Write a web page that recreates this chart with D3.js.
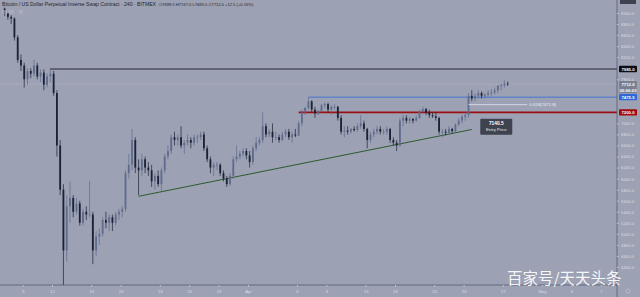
<!DOCTYPE html>
<html><head><meta charset="utf-8">
<script src="https://cdn.jsdelivr.net/npm/d3@7"></script>
<style>
body{margin:0;background:#9ca1b4;overflow:hidden}
svg{display:block}
</style>
</head><body><div id="chart"></div>
<script>
const W = 640, H = 297;
const PLOT_RIGHT = 617, AXIS_Y = 285;

// 8h candles from 2020-03-07 00:00 UTC, [open, high, low, close]
const candles = [
  [9080,9100,8950,9000],[9000,9050,8880,8930],[8930,8960,8800,8900],
  [8900,8920,8500,8560],[8560,8600,8100,8150],[8150,8250,7950,8050],
  [8050,8100,7650,7800],[7800,8000,7700,7950],[7950,8000,7820,7900],
  [7900,8150,7850,8050],[8050,8100,7800,7850],[7850,7980,7750,7920],
  [7920,7980,7600,7700],[7700,7900,7650,7850],[7850,7985,7750,7900],
  [7900,7950,7500,7550],[7550,7600,6400,6600],[6600,6700,5700,5800],
  [5800,5900,3600,4700],[4700,5700,4500,5500],[5500,5950,5200,5650],
  [5650,5700,5300,5400],[5400,5650,5350,5550],[5550,5600,5150,5200],
  [5200,5450,5150,5400],[5400,5500,5250,5350],[5350,5950,5300,5350],
  [5350,5400,4450,4700],[4700,5050,4600,4950],[4950,5100,4800,5000],
  [5000,5300,4950,5250],[5250,5400,5100,5200],[5200,5350,5050,5300],
  [5300,5350,5050,5200],[5200,5400,5150,5350],[5350,5450,5250,5400],
  [5400,5500,5300,5450],[5450,6150,5400,6100],[6100,6450,6000,6250],
  [6250,6900,6150,6700],[6700,6750,6100,6200],[6200,6350,5700,6150],
  [6150,6450,6050,6350],[6350,6400,6100,6200],[6200,6300,6050,6150],
  [6150,6250,5850,5950],[5950,6100,5800,6050],[6050,6150,5850,5900],
  [5900,6200,5750,6150],[6150,6450,6100,6400],[6400,6600,6350,6500],
  [6500,6800,6450,6750],[6750,6850,6600,6700],[6700,6800,6600,6750],
  [6750,6950,6550,6600],[6600,6700,6450,6650],[6650,6800,6600,6700],
  [6700,6750,6550,6650],[6650,6800,6600,6750],[6750,6800,6650,6750],
  [6750,6850,6700,6800],[6800,6850,6500,6550],[6550,6600,6300,6350],
  [6350,6400,6100,6200],[6200,6300,6050,6250],[6250,6300,6150,6250],
  [6250,6280,6050,6100],[6100,6150,5950,6000],[6000,6050,5850,5900],
  [5900,6100,5870,6050],[6050,6400,6000,6350],[6350,6600,6300,6400],
  [6400,6500,6350,6450],[6450,6550,6400,6500],[6500,6550,6350,6420],
  [6420,6500,6200,6300],[6300,6600,6250,6550],[6550,6750,6500,6650],
  [6650,6750,6600,6700],[6700,7200,6650,6950],[6950,7000,6750,6800],
  [6800,6900,6750,6850],[6850,7000,6650,6750],[6750,6850,6700,6750],
  [6750,6800,6650,6700],[6700,6850,6680,6800],[6800,6900,6750,6850],
  [6850,6900,6700,6750],[6750,6850,6650,6800],[6800,6900,6750,6780],
  [6780,7050,6770,7000],[7000,7250,6950,7200],[7200,7300,7150,7280],
  [7280,7470,7250,7400],[7400,7420,7200,7250],[7250,7300,7100,7180],
  [7180,7250,7150,7220],[7220,7350,7200,7330],[7330,7380,7280,7350],
  [7350,7380,7200,7250],[7250,7330,7150,7300],[7300,7350,7250,7300],
  [7300,7320,7050,7100],[7100,7150,6800,6850],[6850,6950,6750,6870],
  [6870,6950,6800,6850],[6850,6920,6820,6900],[6900,6950,6850,6880],
  [6880,7000,6850,6950],[6950,7150,6900,7000],[7000,7050,6850,6900],
  [6900,6920,6550,6700],[6700,6850,6650,6800],[6800,6900,6750,6850],
  [6850,6950,6800,6900],[6900,6950,6800,6850],[6850,6900,6800,6850],
  [6850,6950,6800,6900],[6900,6920,6650,6700],[6700,6750,6600,6650],
  [6650,6700,6500,6600],[6600,7100,6580,7050],[7050,7150,6950,7100],
  [7100,7150,7000,7050],[7050,7120,7000,7080],[7080,7100,7000,7050],
  [7050,7150,7030,7100],[7100,7250,7080,7220],[7220,7300,7200,7260],
  [7260,7280,7150,7200],[7200,7250,7100,7150],[7150,7200,7100,7130],
  [7130,7200,7050,7100],[7100,7120,6800,6850],[6850,6900,6750,6850],
  [6850,6900,6780,6830],[6830,6950,6800,6900],[6900,6920,6820,6860],
  [6860,7000,6840,6980],[6980,7100,6950,7050],[7050,7150,7000,7120],
  [7120,7200,7050,7150],[7150,7550,7100,7500],[7500,7600,7400,7450],
  [7450,7550,7400,7500],[7500,7600,7450,7550],[7550,7580,7450,7500],
  [7500,7550,7450,7520],[7520,7600,7480,7550],[7550,7620,7500,7560],
  [7560,7650,7520,7600],[7600,7700,7550,7680],[7680,7720,7600,7690],
  [7690,7780,7650,7720],[7720,7760,7680,7712]
];
const START = Date.UTC(2020, 2, 7, 0);
const STEP = 8 * 3600 * 1000;

const priceTicks = [9000,8800,8600,8400,8200,7800,7000,6800,6600,6400,6200,6000,5800,5600,5400,5200,5000,4800,4600,4400];
const dateTicks = ["2020-03-09","2020-03-12","2020-03-16","2020-03-19","2020-03-23","2020-03-26","2020-03-29","2020-04-01","2020-04-06","2020-04-09","2020-04-13","2020-04-16","2020-04-20","2020-04-23","2020-04-27","2020-05-01","2020-05-04","2020-05-07"];
const dateLabels = ["9","12","16","19","23","26","29","Apr","6","9","13","16","20","23","27","May","4","7"];

// drawings
const resistance = { price: 7985, from: "2020-03-11T19:00Z" };
const entryLine = { price: 7200, from: "2020-04-06T04:00Z", label: "7200.0" };
const blueLine = { price: 7475.5, from: "2020-04-07T04:00Z", label: "7475.5" };
const fib = { price: 7340, from: "2020-04-23T12:00Z", to: "2020-04-29T12:00Z", label: "0.618(7471.8)" };
const trend = [["2020-03-20T20:00Z", 5680], ["2020-04-23T20:00Z", 6890]];
const entry = { price: 7140.5, time: "2020-04-26T08:00Z" };
const lastPrice = 7712;

const x = d3.scaleUtc()
  .domain([new Date("2020-04-01T00:00Z"), new Date("2020-05-01T00:00Z")])
  .range([248, 542]);
const y = d3.scaleLinear().domain([4200, 9000]).range([278, 13]);

const svg = d3.select("#chart").append("svg")
  .attr("width", W).attr("height", H)
  .style("font-family", "'Liberation Sans', 'DejaVu Sans', sans-serif");

svg.append("rect").attr("width", W).attr("height", H).attr("fill", "#9ca1b4");

svg.append("defs").append("clipPath").attr("id", "plot")
  .append("rect").attr("x", 0).attr("y", 0).attr("width", PLOT_RIGHT).attr("height", AXIS_Y);

const plot = svg.append("g").attr("clip-path", "url(#plot)");

// last price line
plot.append("line")
  .attr("x1", 0).attr("x2", PLOT_RIGHT)
  .attr("y1", y(lastPrice)).attr("y2", y(lastPrice))
  .attr("stroke", "#b7bccb").attr("stroke-width", 0.8).attr("stroke-dasharray", "1,1");

// horizontal levels
plot.append("line")
  .attr("x1", x(new Date(resistance.from))).attr("x2", PLOT_RIGHT)
  .attr("y1", y(resistance.price)).attr("y2", y(resistance.price))
  .attr("stroke", "#4b4f5e").attr("stroke-width", 1.4);

plot.append("line")
  .attr("x1", x(new Date(blueLine.from))).attr("x2", PLOT_RIGHT)
  .attr("y1", y(blueLine.price)).attr("y2", y(blueLine.price))
  .attr("stroke", "#3c6fd6").attr("stroke-width", 0.9);

plot.append("line")
  .attr("x1", x(new Date(entryLine.from))).attr("x2", PLOT_RIGHT)
  .attr("y1", y(entryLine.price)).attr("y2", y(entryLine.price))
  .attr("stroke", "#9a0f12").attr("stroke-width", 1.8);

// trend line
plot.append("line")
  .attr("x1", x(new Date(trend[0][0]))).attr("y1", y(trend[0][1]))
  .attr("x2", x(new Date(trend[1][0]))).attr("y2", y(trend[1][1]))
  .attr("stroke", "#2d5a2d").attr("stroke-width", 1);

// candles
const bw = (x(new Date(START + STEP)) - x(new Date(START))) * 0.55;
const cg = plot.selectAll(".c").data(candles).enter().append("g").attr("class", "c");
cg.each(function(d, i) {
  const cx = x(new Date(START + i * STEP + STEP / 2));
  const up = d[3] >= d[0];
  const col = up ? "#5f6b8d" : "#1c2234";
  const g = d3.select(this);
  g.append("line")
    .attr("x1", cx).attr("x2", cx)
    .attr("y1", y(d[1])).attr("y2", y(d[2]))
    .attr("stroke", col).attr("stroke-width", 0.7);
  const top = y(Math.max(d[0], d[3])), bot = y(Math.min(d[0], d[3]));
  g.append("rect")
    .attr("x", cx - bw / 2).attr("width", bw)
    .attr("y", top).attr("height", Math.max(0.8, bot - top))
    .attr("fill", col);
});

// fib level
plot.append("line")
  .attr("x1", x(new Date(fib.from))).attr("x2", x(new Date(fib.to)))
  .attr("y1", y(fib.price)).attr("y2", y(fib.price))
  .attr("stroke", "#e4e6ee").attr("stroke-width", 0.8);
plot.append("text")
  .attr("x", x(new Date(fib.to)) + 2).attr("y", y(fib.price) + 1.5)
  .attr("font-size", 4.3).attr("fill", "#eef0f5").text(fib.label);

// entry price box
const ex = x(new Date(entry.time)), ey = y(entry.price) + 9;
plot.append("rect").attr("x", ex - 16).attr("y", ey - 6).attr("width", 32).attr("height", 16)
  .attr("rx", 1).attr("fill", "#3f434f");
plot.append("text").attr("x", ex).attr("y", ey).attr("text-anchor", "middle")
  .attr("font-size", 4.8).attr("font-weight", "bold").attr("fill", "#fff").text(entry.price.toFixed(1));
plot.append("text").attr("x", ex).attr("y", ey + 6.5).attr("text-anchor", "middle")
  .attr("font-size", 4.2).attr("fill", "#e8e8e8").text("Entry Price");

// bottom axis
svg.append("line").attr("x1", 0).attr("x2", PLOT_RIGHT).attr("y1", AXIS_Y).attr("y2", AXIS_Y)
  .attr("stroke", "#575c6c").attr("stroke-width", 0.8);
const xAxis = svg.append("g").attr("transform", `translate(0,${AXIS_Y})`)
  .call(d3.axisBottom(x).tickValues(dateTicks.map(s => new Date(s + "T00:00Z")))
    .tickFormat((d, i) => dateLabels[i]).tickSize(1.5).tickPadding(3.5));
xAxis.select(".domain").remove();
xAxis.selectAll("line").attr("stroke", "#c9ccd8");
xAxis.selectAll("text").attr("font-size", 4.3).attr("fill", "#d9dce6").attr("font-family", "'Liberation Sans', sans-serif");

// price axis
svg.append("line").attr("x1", PLOT_RIGHT).attr("x2", PLOT_RIGHT).attr("y1", 0).attr("y2", H)
  .attr("stroke", "#575c6c").attr("stroke-width", 0.8);
const yAxis = svg.append("g").attr("transform", `translate(${PLOT_RIGHT},0)`)
  .call(d3.axisRight(y).tickValues(priceTicks).tickFormat(d => d.toFixed(1)).tickSize(1.5).tickPadding(2.5));
yAxis.select(".domain").remove();
yAxis.selectAll("line").attr("stroke", "#c9ccd8");
yAxis.selectAll("text").attr("font-size", 4.3).attr("fill", "#d9dce6").attr("font-family", "'Liberation Sans', sans-serif");

function priceTag(yy, txt, bg, fg) {
  svg.append("rect").attr("x", PLOT_RIGHT + 2).attr("y", yy - 3.2).attr("width", 18).attr("height", 6.4)
    .attr("rx", 0.8).attr("fill", bg);
  svg.append("text").attr("x", PLOT_RIGHT + 11).attr("y", yy + 1.6).attr("text-anchor", "middle")
    .attr("font-size", 4.3).attr("font-weight", "bold").attr("fill", fg).text(txt);
}
priceTag(y(resistance.price), "7985.0", "#0d0e12", "#fff");
priceTag(y(lastPrice), lastPrice.toFixed(1), "#7b8090", "#fff");
priceTag(y(lastPrice) + 6, "02:06:03", "#7b8090", "#fff");
priceTag(y(blueLine.price), blueLine.label, "#2f67d8", "#fff");
priceTag(y(entryLine.price), entryLine.label, "#a3090d", "#fff");
svg.append("rect").attr("x", PLOT_RIGHT + 3).attr("y", -2).attr("width", 16).attr("height", 6)
  .attr("fill", "#3e4250");
svg.append("circle").attr("cx", 628).attr("cy", 291).attr("r", 2).attr("fill", "none")
  .attr("stroke", "#c9ccd8").attr("stroke-width", 0.5);

// title
const title = svg.append("text").attr("x", 2).attr("y", 6).attr("fill", "#23262f");
title.append("tspan").attr("font-size", 5.1).text("Bitcoin / US Dollar Perpetual Inverse Swap Contract · 240 · BITMEX");
title.append("tspan").attr("dx", 3).attr("font-size", 4.1).text("O7699.5  H7747.0  L7683.0  C7712.0  +12.5 (+0.16%)");
svg.append("rect").attr("x", 2).attr("y", 10).attr("width", 12).attr("height", 3.5).attr("fill", "#b2b6c5").attr("opacity", 0.6);
svg.append("rect").attr("x", 19).attr("y", 10).attr("width", 4).attr("height", 3.5).attr("fill", "#b2b6c5").attr("opacity", 0.6);

// watermark
svg.append("text").attr("x", 507).attr("y", 284)
  .attr("font-family", "'Noto Sans CJK SC', sans-serif").attr("font-size", 15.5)
  .attr("fill", "#ffffff").attr("fill-opacity", 0.92).text("百家号/天天头条");
</script>
</body></html>
